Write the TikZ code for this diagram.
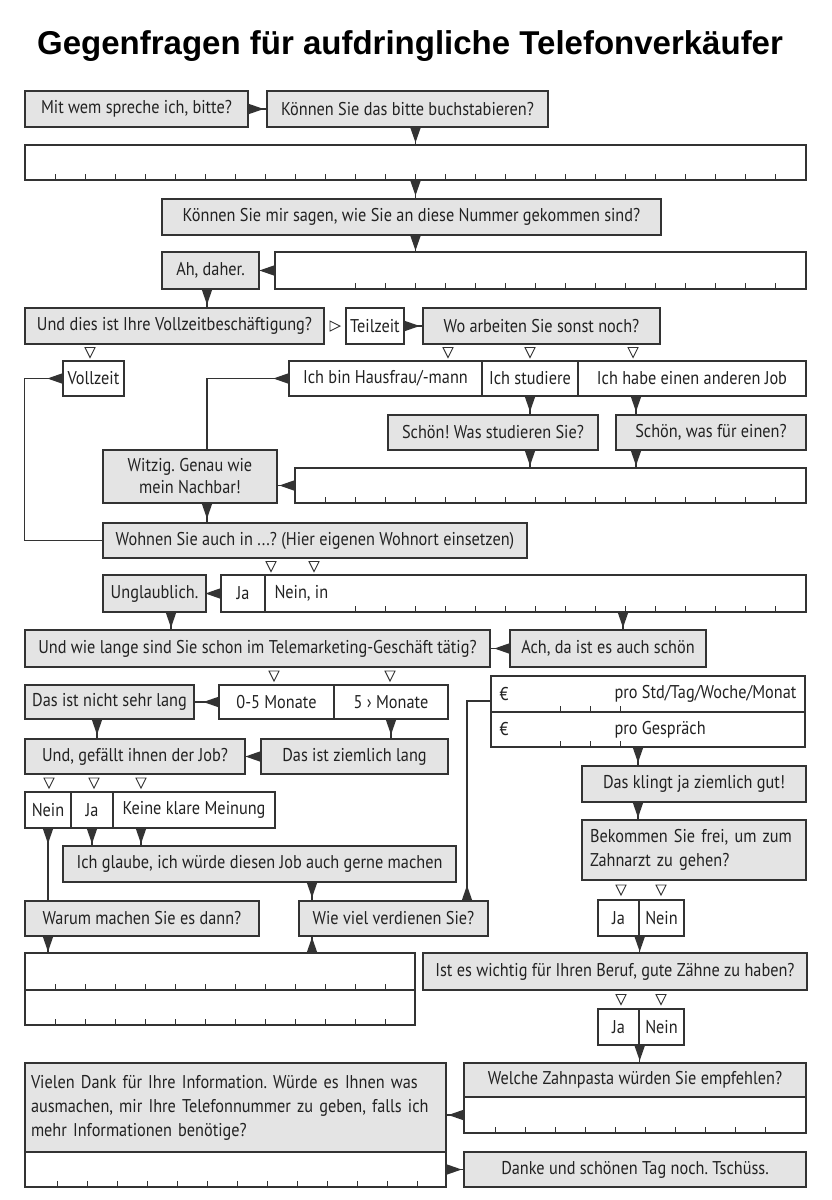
\documentclass[tikz,border=0pt]{standalone}
\usepackage{fontspec}
\setmainfont{PT Sans}[FakeStretch=0.88]
\newfontfamily\titlefont{Liberation Sans}
\usetikzlibrary{arrows.meta,calc}
\definecolor{boxgray}{HTML}{E4E4E4}
\definecolor{edgegray}{HTML}{333333}
\definecolor{textgray}{HTML}{222222}
\frenchspacing

\tikzset{
    choicedown/.pic={\draw[edgegray, line width=0.9pt, fill=white] (-5,-5) -- (5,-5) -- (0,5) -- cycle;},
    choiceright/.pic={\draw[edgegray, line width=0.9pt, fill=white] (-5,-5) -- (-5,5) -- (5,0) -- cycle;}
}

\begin{document}
\begin{tikzpicture}[
    x=1pt, y=-1pt,
    every node/.style={font=\fontsize{18.5}{22}\selectfont, text=textgray},
    question/.style={draw=edgegray, line width=1.4pt, fill=boxgray, inner sep=0pt, align=center},
    answer/.style={draw=edgegray, line width=1.4pt, fill=white, inner sep=0pt, align=center},
    flow/.style={draw=edgegray, line width=1.4pt, {Triangle[reversed, length=15pt, width=10pt]}-},
    ticks/.style={draw=edgegray, line width=0.8pt}
]
\useasboundingbox (0,0) rectangle (832,1200);
\fill[white] (0,0) rectangle (832,1200);

\node[font=\titlefont\bfseries\fontsize{33}{38}\selectfont, text=black, anchor=base west, inner sep=0pt] (title) at (37,54) {Gegenfragen für aufdringliche Telefonverkäufer};

% lanes for vertical connectors
\coordinate (lane) at (207,0);
\coordinate (jobx) at (636,0);
\coordinate (ortx) at (623,0);
\coordinate (unglx) at (171,0);
\coordinate (kurzx) at (97,0);
\coordinate (geldx) at (638,0);
\coordinate (keinex) at (141,0);
\coordinate (glaubex) at (312,0);
\coordinate (paid) at (467,701);

% name and number
\node[question, minimum width=223pt, minimum height=36pt] (mitwem) at (136.5,109) {Mit wem spreche ich, bitte?};
\node[question, minimum width=281pt, minimum height=36pt] (buchstabieren) at (407.5,109) {Können Sie das bitte buchstabieren?};
\node[answer, minimum width=781pt, minimum height=35pt] (nameline) at (415.5,162.5) {};
\node[question, minimum width=499pt, minimum height=36pt] (nummer) at (411.5,217) {Können Sie mir sagen, wie Sie an diese Nummer gekommen sind?};
\node[question, minimum width=97pt, minimum height=37pt] (daher) at (210.5,270.5) {Ah, daher.};
\node[answer, minimum width=531pt, minimum height=37pt] (quelle) at (540.5,270.5) {};

% job
\node[question, minimum width=299pt, minimum height=36pt] (vollzeitfrage) at (174.5,326) {Und dies ist Ihre Vollzeitbeschäftigung?};
\node[answer, minimum width=58pt, minimum height=36pt] (teilzeit) at (375,326) {Teilzeit};
\node[question, minimum width=237pt, minimum height=36pt] (sonst) at (541.5,326) {Wo arbeiten Sie sonst noch?};
\node[answer, minimum width=61pt, minimum height=35pt] (vollzeit) at (93.5,378.5) {Vollzeit};
\node[answer, minimum width=193pt, minimum height=35pt] (hausfrau) at (385.5,378.5) {Ich bin Hausfrau/-mann};
\node[answer, minimum width=96pt, minimum height=35pt] (studiere) at (530,378.5) {Ich studiere};
\node[answer, minimum width=228pt, minimum height=35pt] (anderer) at (692,378.5) {Ich habe einen anderen Job};
\node[question, minimum width=210pt, minimum height=35pt] (wasstud) at (493,432.5) {Schön! Was studieren Sie?};
\node[question, minimum width=190pt, minimum height=35pt] (wasfuer) at (711,432.5) {Schön, was für einen?};
\node[question, minimum width=174pt, minimum height=53pt] (witzig) at (190,476.5) {Witzig. Genau wie\\mein Nachbar!};
\node[answer, minimum width=511pt, minimum height=35pt] (jobline) at (550.5,485.5) {};

% place
\node[question, minimum width=424pt, minimum height=35pt] (wohnen) at (315,540.5) {Wohnen Sie auch in ...? (Hier eigenen Wohnort einsetzen)};
\node[question, minimum width=103pt, minimum height=37pt] (unglaub) at (154.5,593.5) {Unglaublich.};
\node[answer, minimum width=44pt, minimum height=37pt] (jaort) at (243,593.5) {Ja};
\node[answer, minimum width=541pt, minimum height=37pt] (neinort) at (535.5,593.5) {};
\node[anchor=west, inner sep=0pt] (neinortlabel) at ($(neinort.west)+(10,0)$) {Nein, in};
\node[question, minimum width=465pt, minimum height=37pt] (telemark) at (257.5,648.5) {Und wie lange sind Sie schon im Telemarketing-Geschäft tätig?};
\node[question, minimum width=196pt, minimum height=37pt] (ach) at (608,648.5) {Ach, da ist es auch schön};

% duration
\node[question, minimum width=169pt, minimum height=34pt] (nichtlang) at (109.5,702) {Das ist nicht sehr lang};
\node[answer, minimum width=115pt, minimum height=34pt] (monatekurz) at (276.5,702) {0-5 Monate};
\node[answer, minimum width=114pt, minimum height=34pt] (monatelang) at (391,702) {5 › Monate};
\node[question, minimum width=220pt, minimum height=35pt] (gefaellt) at (135,756.5) {Und, gefällt ihnen der Job?};
\node[question, minimum width=187pt, minimum height=35pt] (ziemlich) at (354.5,756.5) {Das ist ziemlich lang};
\node[answer, minimum width=46pt, minimum height=36pt] (neinjob) at (48,810) {Nein};
\node[answer, minimum width=42pt, minimum height=36pt] (jajob) at (92,810) {Ja};
\node[answer, minimum width=162pt, minimum height=36pt] (keine) at (194,810) {Keine klare Meinung};
\node[question, minimum width=393pt, minimum height=36pt] (glaube) at (259.5,864) {Ich glaube, ich würde diesen Job auch gerne machen};
\node[question, minimum width=234pt, minimum height=35pt] (warum) at (142,918.5) {Warum machen Sie es dann?};
\node[question, minimum width=189pt, minimum height=35pt] (verdienen) at (393.5,918.5) {Wie viel verdienen Sie?};
\node[answer, minimum width=390pt, minimum height=37pt] (antwortA) at (220,971.5) {};
\node[answer, minimum width=390pt, minimum height=35pt] (antwortB) at (220,1007.5) {};

% money and teeth
\node[answer, minimum width=314pt, minimum height=36pt] (euroStd) at (648,694) {};
\node[answer, minimum width=314pt, minimum height=35pt] (euroGespr) at (648,729.5) {};
\node[anchor=west, inner sep=0pt] (euroA) at ($(euroStd.west)+(9,0)$) {€};
\node[anchor=west, inner sep=0pt] (proStd) at ($(euroStd.west)+(124,0)$) {pro Std/Tag/Woche/Monat};
\node[anchor=west, inner sep=0pt] (euroB) at ($(euroGespr.west)+(9,0)$) {€};
\node[anchor=west, inner sep=0pt] (proGespr) at ($(euroGespr.west)+(124,0)$) {pro Gespräch};
\node[question, minimum width=224pt, minimum height=36pt] (klingt) at (694,784) {Das klingt ja ziemlich gut!};
\node[question, minimum width=224pt, minimum height=60pt, inner xsep=8pt, text width=208pt, align=left, font=\fontsize{18.5}{24}\selectfont] (bekommen) at (694,850) {Bekommen Sie frei, um zum\\Zahnarzt zu gehen?};
\node[answer, minimum width=41pt, minimum height=36pt] (jafrei) at (618.5,918) {Ja};
\node[answer, minimum width=45pt, minimum height=36pt] (neinfrei) at (661.5,918) {Nein};
\node[question, minimum width=384pt, minimum height=37pt] (wichtig) at (615,971.5) {Ist es wichtig für Ihren Beruf, gute Zähne zu haben?};
\node[answer, minimum width=41pt, minimum height=36pt] (jazaehne) at (618.5,1027) {Ja};
\node[answer, minimum width=45pt, minimum height=36pt] (neinzaehne) at (661.5,1027) {Nein};

% closing
\node[question, minimum width=421pt, minimum height=89pt, inner xsep=6pt, text width=409pt, align=left, font=\fontsize{18.5}{24}\selectfont] (vielen) at (235.5,1107.5) {Vielen Dank für Ihre Information. Würde es Ihnen was\\ausmachen, mir Ihre Telefonnummer zu geben, falls ich\\mehr Informationen benötige?};
\node[answer, minimum width=421pt, minimum height=35pt] (nummerline) at (235.5,1169.5) {};
\node[question, minimum width=342pt, minimum height=34pt] (zahnpasta) at (635,1080) {Welche Zahnpasta würden Sie empfehlen?};
\node[answer, minimum width=342pt, minimum height=36pt] (zahnpastaline) at (635,1115) {};
\node[question, minimum width=342pt, minimum height=35pt] (danke) at (635,1169.5) {Danke und schönen Tag noch. Tschüss.};

% ticks on the answer lines
\foreach \x in {55,85,...,775} \draw[ticks] (\x,180) -- ++(0,-6);
\foreach \x in {355,385,...,775} \draw[ticks] (\x,289) -- ++(0,-6);
\foreach \x in {325,355,...,775} \draw[ticks] (\x,503) -- ++(0,-6);
\foreach \x in {355,385,...,775} \draw[ticks] (\x,612) -- ++(0,-6);
\foreach \x in {560,590,620} {
    \draw[ticks] (\x,712) -- ++(0,-6);
    \draw[ticks] (\x,747) -- ++(0,-6);
}
\foreach \x in {55,85,...,385} {
    \draw[ticks] (\x,990) -- ++(0,-6);
    \draw[ticks] (\x,1025) -- ++(0,-6);
}
\foreach \x in {495,525,...,765} \draw[ticks] (\x,1133) -- ++(0,-6);
\foreach \x in {57,87,...,417} \draw[ticks] (\x,1187) -- ++(0,-6);

% choices
\pic at (90,352.5) {choicedown};
\pic at (335,326) {choiceright};
\foreach \x in {448,530,633} \pic at (\x,352.5) {choicedown};
\foreach \x in {271,314} \pic at (\x,566.5) {choicedown};
\foreach \x in {274,390} \pic at (\x,676) {choicedown};
\foreach \x in {49,94,141} \pic at (\x,783) {choicedown};
\foreach \x in {621,661} {
    \pic at (\x,890) {choicedown};
    \pic at (\x,999.5) {choicedown};
}

% connectors
\draw[flow] (mitwem) -- (buchstabieren);
\draw[flow] (buchstabieren.south -| nameline) -- (nameline.north);
\draw[flow] (nameline.south) -- (nummer.north -| nameline);
\draw[flow] (nummer.south -| nameline) -- (quelle.north -| nameline);
\draw[flow] (quelle) -- (daher);
\draw[flow] (daher.south -| lane) -- (vollzeitfrage.north -| lane);
\draw[flow] (teilzeit) -- (sonst);
\draw[flow] (vollzeit.west) -- (vollzeit.west -| vollzeitfrage.west) |- (wohnen.west);
\draw[flow] (hausfrau.west) -| (witzig.north -| lane);
\draw[flow] (studiere.south) -- (wasstud.north -| studiere);
\draw[flow] (anderer.south -| jobx) -- (wasfuer.north -| jobx);
\draw[flow] (wasstud.south -| studiere) -- (jobline.north -| studiere);
\draw[flow] (wasfuer.south -| jobx) -- (jobline.north -| jobx);
\draw[flow] (jobline.west) -- (jobline.west -| witzig.east);
\draw[flow] (witzig.south -| lane) -- (wohnen.north -| lane);
\draw[flow] (jaort) -- (unglaub);
\draw[flow] (neinort.south -| ortx) -- (ach.north -| ortx);
\draw[flow] (unglaub.south -| unglx) -- (telemark.north -| unglx);
\draw[flow] (ach) -- (telemark);
\draw[flow] (monatekurz) -- (nichtlang);
\draw[flow] (nichtlang.south -| kurzx) -- (gefaellt.north -| kurzx);
\draw[flow] (monatelang.south) -- (ziemlich.north -| monatelang);
\draw[flow] (ziemlich) -- (gefaellt);
\draw[flow] (euroGespr.south -| geldx) -- (klingt.north -| geldx);
\draw[flow] (klingt.south -| geldx) -- (bekommen.north -| geldx);
\draw[flow] (verdienen.north -| paid) |- (euroStd.west |- paid);
\draw[flow] (neinjob.south) -- (warum.north -| neinjob);
\draw[flow] (jajob.south) -- (glaube.north -| jajob);
\draw[flow] (keine.south -| keinex) -- (glaube.north -| keinex);
\draw[flow] (glaube.south -| glaubex) -- (verdienen.north -| glaubex);
\draw[flow] (warum.south -| neinjob) -- (antwortA.north -| neinjob);
\draw[flow] (antwortA.north -| glaubex) -- (verdienen.south -| glaubex);
\draw[flow] (jafrei.south east) -- (wichtig.north -| jafrei.south east);
\draw[flow] (jazaehne.south east) -- (zahnpasta.north -| jazaehne.south east);
\draw[flow] (zahnpastaline.west) -- (zahnpastaline.west -| vielen.east);
\draw[flow] (nummerline) -- (danke);

\end{tikzpicture}
\end{document}
